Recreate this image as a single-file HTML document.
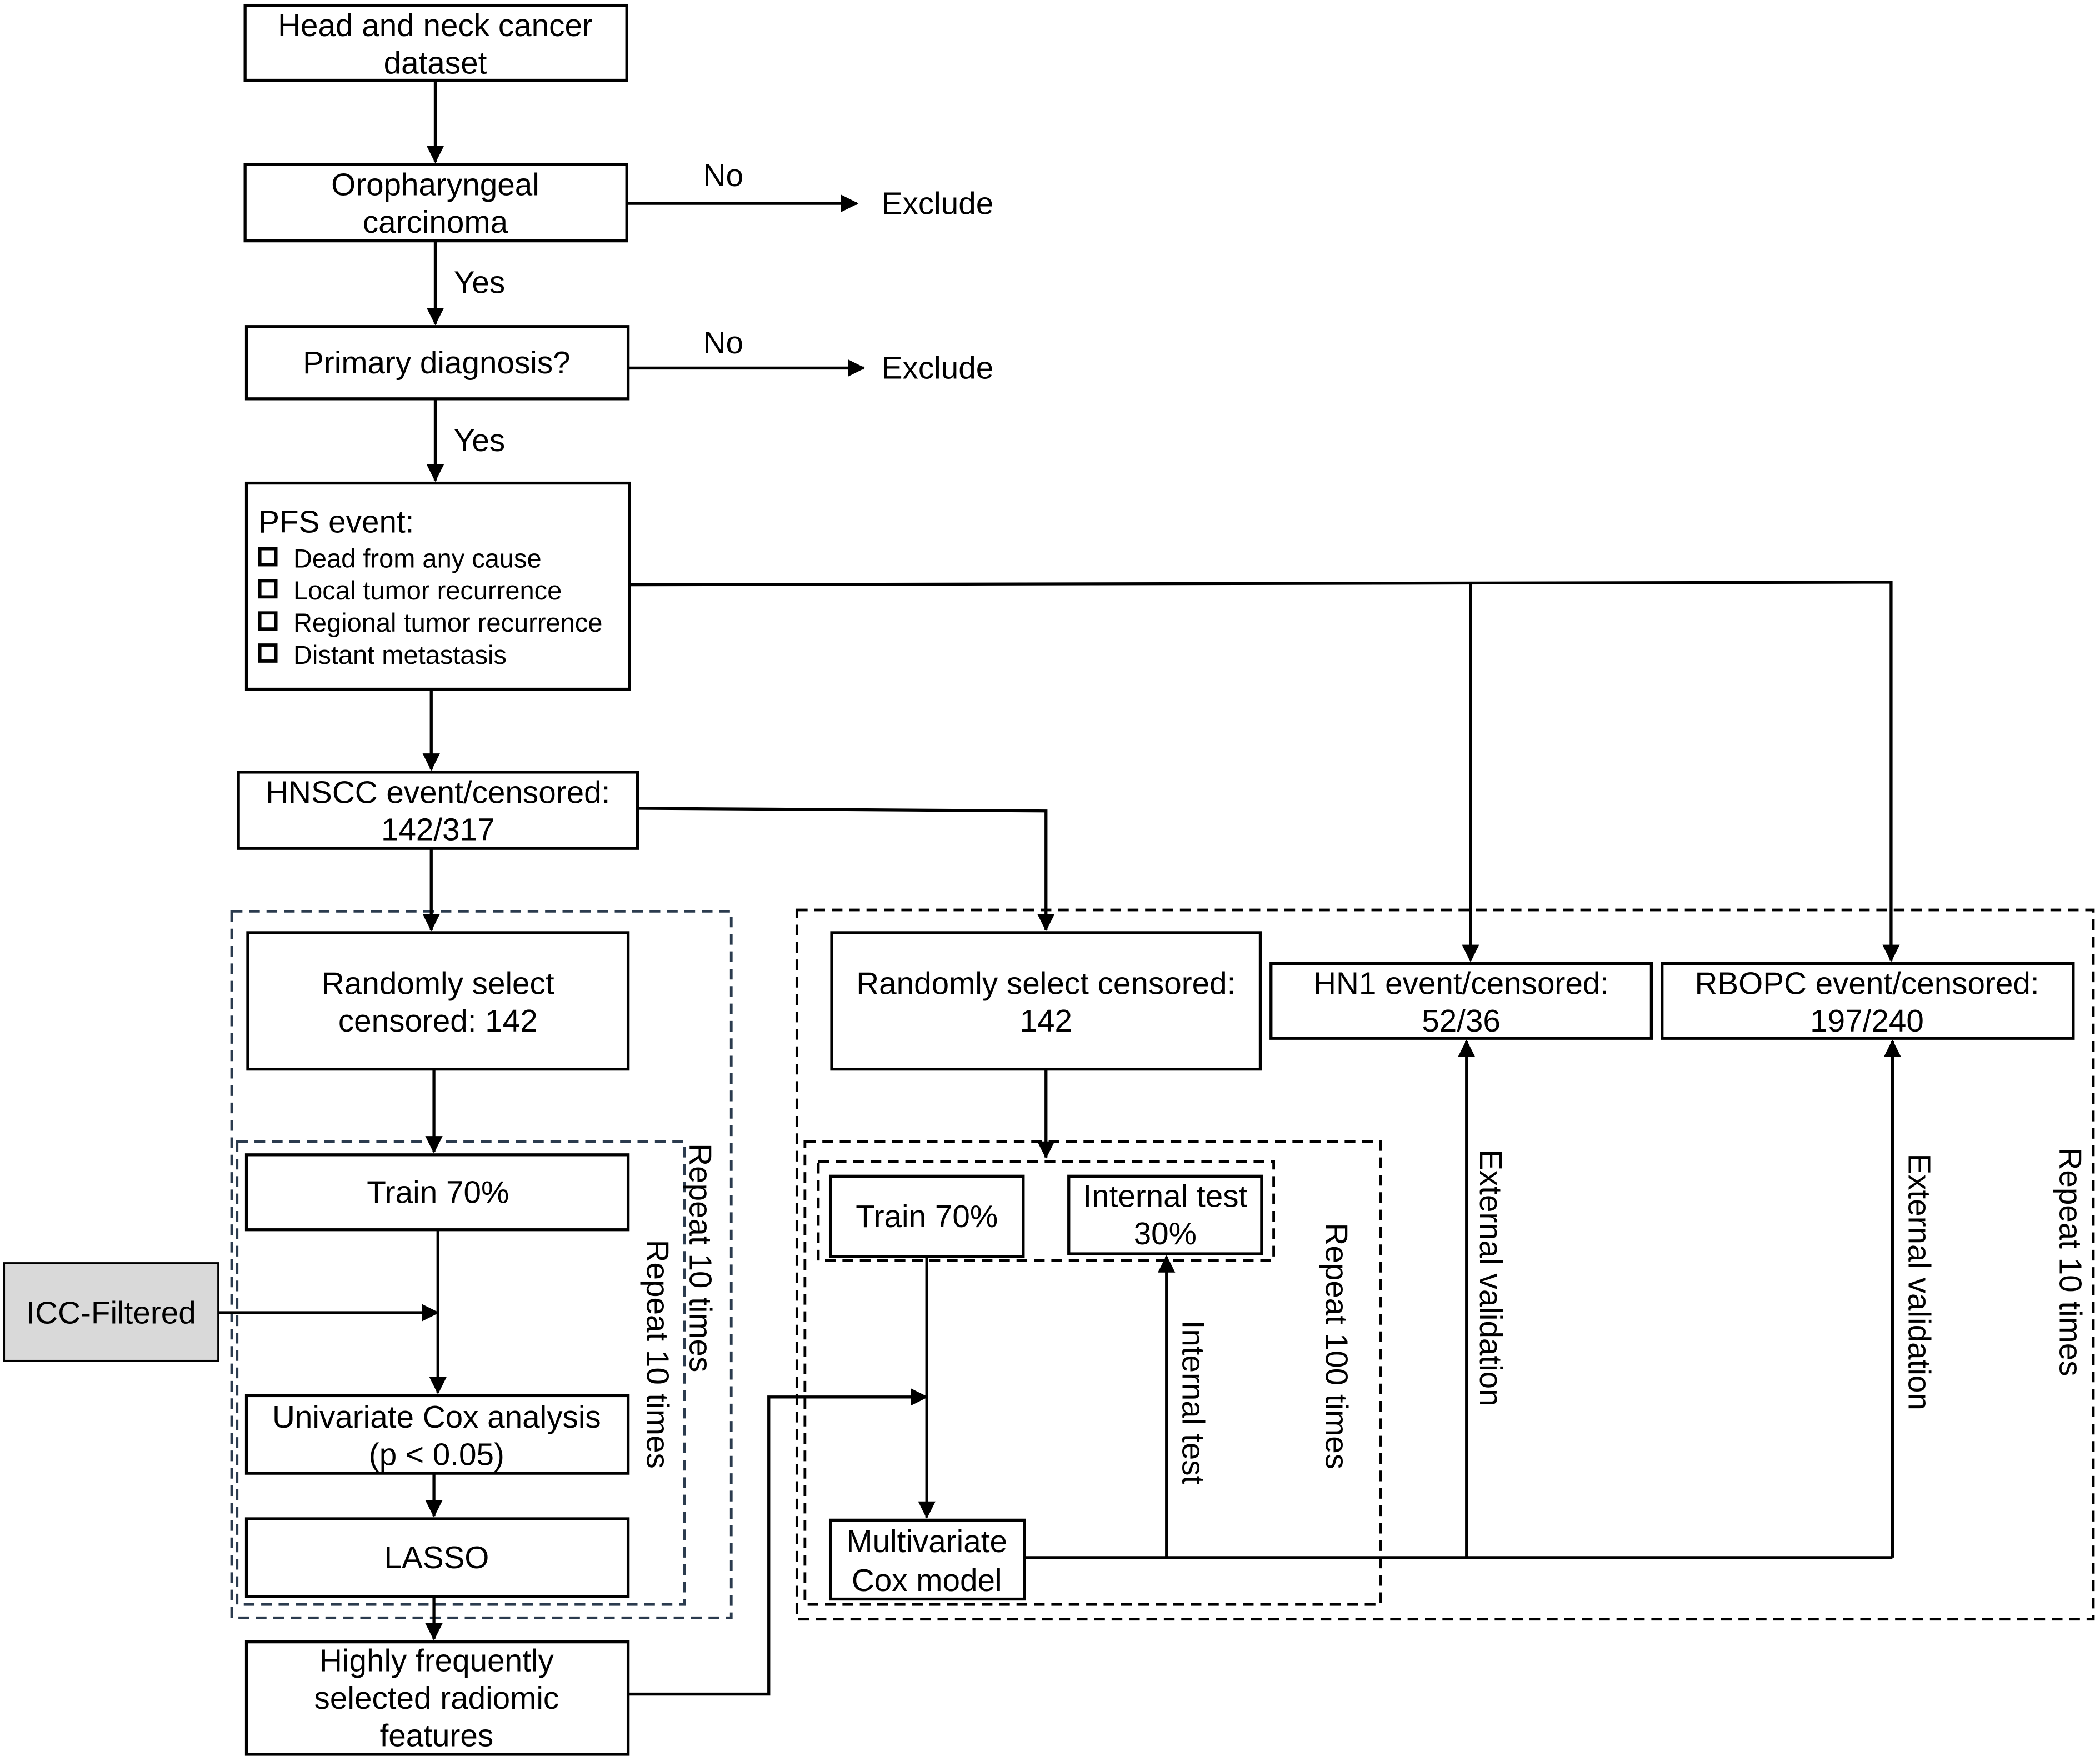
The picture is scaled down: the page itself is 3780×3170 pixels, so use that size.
<!DOCTYPE html>
<html><head><meta charset="utf-8"><style>html,body{margin:0;padding:0;background:#fff}svg{display:block}</style></head>
<body>
<svg xmlns="http://www.w3.org/2000/svg" width="3780" height="3170" viewBox="0 0 1568 1316" preserveAspectRatio="none">
<defs>
<marker id="a" markerWidth="13" markerHeight="13" refX="12" refY="6.5" orient="auto" markerUnits="userSpaceOnUse" viewBox="0 0 13 13">
<path d="M0,0 L13,6.5 L0,13 z" fill="#000"/></marker>
</defs>
<rect width="1568" height="1316" fill="#fff"/>
<g font-family="Liberation Sans, Arial, sans-serif" font-size="23.5" fill="#000" text-anchor="middle">
<g fill="none" stroke="#000" stroke-width="2.2">
<rect x="183" y="4" width="285" height="56"/>
<rect x="183" y="123" width="285" height="57"/>
<rect x="184" y="244" width="285" height="54"/>
<rect x="184" y="361" width="286" height="154"/>
<rect x="178" y="577" width="298" height="57"/>
<rect x="185" y="697" width="284" height="102"/>
<rect x="184" y="863" width="285" height="56"/>
<rect x="184" y="1043" width="285" height="58"/>
<rect x="184" y="1135" width="285" height="58"/>
<rect x="184" y="1227" width="285" height="84"/>
<rect x="621" y="697" width="320" height="102"/>
<rect x="620" y="879" width="144" height="60"/>
<rect x="798" y="879" width="144" height="58"/>
<rect x="620" y="1136" width="145" height="59"/>
<rect x="949" y="720" width="284" height="56"/>
<rect x="1241" y="720" width="307" height="56"/>
</g>
<rect x="3" y="944" width="160" height="73" fill="#d9d9d9" stroke="#000" stroke-width="1.5"/>
<g fill="none" stroke="#2b3b4e" stroke-width="2" stroke-dasharray="8,5">
<rect x="173" y="681" width="373" height="528"/>
<rect x="177" y="853" width="334" height="346"/>
</g>
<g fill="none" stroke="#000" stroke-width="2" stroke-dasharray="8,5">
<rect x="595" y="680" width="968" height="530"/>
<rect x="601" y="853" width="430" height="346"/>
<rect x="611" y="868" width="340" height="74"/>
</g>
<g fill="none" stroke="#000" stroke-width="2.2" marker-end="url(#a)">
<path d="M325,60 V121"/>
<path d="M468,152 H640"/>
<path d="M325,180 V242"/>
<path d="M469,275 H645"/>
<path d="M325,298 V359"/>
<path d="M322,515 V575"/>
<path d="M322,634 V695"/>
<path d="M476,604 L781,606 V695"/>
<path d="M470,437 L1412,435 V718"/>
<path d="M1098,436 V718"/>
<path d="M324,799 V861"/>
<path d="M327,919 V1041"/>
<path d="M163,981 H327"/>
<path d="M324,1101 V1133"/>
<path d="M324,1193 V1225"/>
<path d="M469,1266 H574 V1044 H692"/>
<path d="M781,799 V865"/>
<path d="M692,939 V1134"/>
<path d="M871,1164 V939"/>
<path d="M1095,1164 V778"/>
<path d="M1413,1164 V778"/>
</g>
<path d="M765,1164 H1413" stroke="#000" stroke-width="2.2" fill="none"/>
<text x="325" y="27">Head and neck cancer</text>
<text x="325" y="55">dataset</text>
<text x="325" y="146">Oropharyngeal</text>
<text x="325" y="174">carcinoma</text>
<text x="540" y="139">No</text>
<text x="700" y="160">Exclude</text>
<text x="358" y="219">Yes</text>
<text x="326" y="279">Primary diagnosis?</text>
<text x="540" y="264">No</text>
<text x="700" y="283">Exclude</text>
<text x="358" y="337">Yes</text>
<text x="193" y="398" text-anchor="start">PFS event:</text>
<g font-size="19.5" text-anchor="start">
<text x="219" y="424">Dead from any cause</text>
<text x="219" y="448">Local tumor recurrence</text>
<text x="219" y="472">Regional tumor recurrence</text>
<text x="219" y="496">Distant metastasis</text>
</g>
<g fill="none" stroke="#000" stroke-width="2.4">
<rect x="194" y="410" width="12" height="12"/>
<rect x="194" y="434" width="12" height="12"/>
<rect x="194" y="458" width="12" height="12"/>
<rect x="194" y="482" width="12" height="12"/>
</g>
<text x="327" y="600">HNSCC event/censored:</text>
<text x="327" y="628">142/317</text>
<text x="327" y="743">Randomly select</text>
<text x="327" y="771">censored: 142</text>
<text x="327" y="899">Train 70%</text>
<text x="83" y="989">ICC-Filtered</text>
<text x="326" y="1067">Univariate Cox analysis</text>
<text x="326" y="1095">(p &lt; 0.05)</text>
<text x="326" y="1172">LASSO</text>
<text x="326" y="1249">Highly frequently</text>
<text x="326" y="1277">selected radiomic</text>
<text x="326" y="1305">features</text>
<text x="781" y="743">Randomly select censored:</text>
<text x="781" y="771">142</text>
<text x="692" y="917">Train 70%</text>
<text x="870" y="902">Internal test</text>
<text x="870" y="930">30%</text>
<text x="692" y="1160">Multivariate</text>
<text x="692" y="1189">Cox model</text>
<text x="1091" y="743">HN1 event/censored:</text>
<text x="1091" y="771">52/36</text>
<text x="1394" y="743">RBOPC event/censored:</text>
<text x="1394" y="771">197/240</text>
<text transform="translate(515,940) rotate(90)">Repeat 10 times</text>
<text transform="translate(483,1012) rotate(90)">Repeat 10 times</text>
<text transform="translate(990,1006) rotate(90)">Repeat 100 times</text>
<text transform="translate(883,1048) rotate(90)">Internal test</text>
<text transform="translate(1105,955) rotate(90)">External validation</text>
<text transform="translate(1425,958) rotate(90)">External validation</text>
<text transform="translate(1538,943) rotate(90)">Repeat 10 times</text>
</g>
</svg>
</body></html>
